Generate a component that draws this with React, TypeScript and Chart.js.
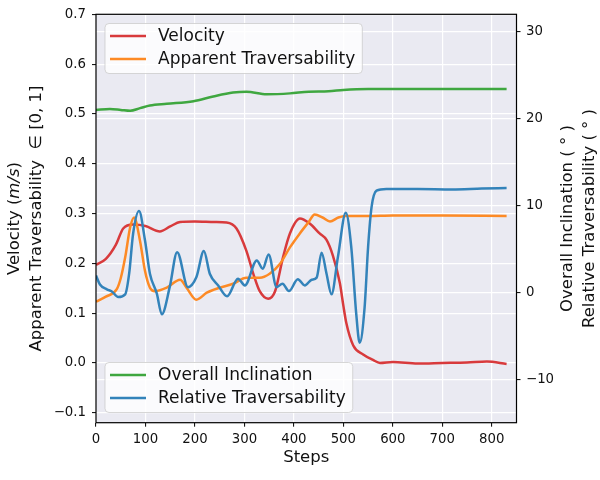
import { useEffect, useRef } from 'react';
import { Chart, registerables } from 'chart.js';

Chart.register(...registerables);

const FONT = "'DejaVu Sans', sans-serif";

// axis ticks
const X_TICKS = [0, 100, 200, 300, 400, 500, 600, 700, 800];
const LEFT_TICKS = [-0.1, 0, 0.1, 0.2, 0.3, 0.4, 0.5, 0.6, 0.7];
const RIGHT_TICKS = [-10, 0, 10, 20, 30];

// Velocity (m/s), left axis
const VELOCITY_STEPS = [0, 20, 40, 55, 75, 100, 129, 150, 170, 200, 240, 264, 284, 304, 318, 331, 348, 362, 378, 392, 412, 432, 452, 466, 479, 493, 500, 506, 520, 540, 560, 574, 600, 650, 700, 750, 790, 830];
const VELOCITY = [0.197, 0.209, 0.237, 0.27, 0.278, 0.275, 0.264, 0.274, 0.283, 0.284, 0.283, 0.282, 0.27, 0.225, 0.179, 0.144, 0.129, 0.144, 0.212, 0.26, 0.29, 0.28, 0.26, 0.247, 0.215, 0.16, 0.115, 0.08, 0.035, 0.017, 0.006, 0.0, 0.002, -0.001, 0.0, 0.001, 0.003, -0.002];

// Apparent Traversability, left axis
const APPARENT_STEPS = [0, 20, 42, 50, 59, 69, 77, 89, 99, 109, 119, 143, 170, 183, 203, 224, 250, 277, 304, 331, 351, 372, 392, 412, 430, 442, 458, 473, 490, 505, 550, 600, 700, 830];
const APPARENT = [0.123, 0.133, 0.148, 0.17, 0.212, 0.272, 0.292, 0.245, 0.185, 0.151, 0.144, 0.151, 0.167, 0.151, 0.127, 0.141, 0.151, 0.159, 0.171, 0.171, 0.179, 0.199, 0.232, 0.26, 0.283, 0.298, 0.292, 0.284, 0.292, 0.295, 0.295, 0.296, 0.296, 0.295];

// Overall Inclination (deg), right axis
const INCLINATION_STEPS = [0, 28, 50, 69, 89, 109, 143, 197, 237, 277, 304, 345, 392, 430, 470, 500, 550, 650, 750, 830];
const INCLINATION = [21.0, 21.1, 21.0, 20.9, 21.2, 21.5, 21.7, 22.0, 22.55, 23.0, 23.1, 22.8, 22.9, 23.1, 23.15, 23.3, 23.4, 23.4, 23.4, 23.4];

// Relative Traversability (deg), right axis
const RELATIVE_STEPS = [0, 8, 22, 32, 45, 59, 67, 75, 87, 99, 109, 123, 133, 149, 164, 186, 203, 218, 230, 247, 265, 287, 301, 325, 337, 349, 365, 377, 390, 408, 422, 436, 446, 456, 466, 476, 489, 505, 516, 526, 533, 543, 550, 557, 567, 587, 650, 720, 780, 830];
const RELATIVE = [1.95, 0.9, 0.35, 0.1, -0.54, -0.23, 2.15, 6.75, 9.35, 6.0, 2.15, -0.15, -2.53, 0.6, 4.63, 0.6, 1.76, 4.75, 2.15, 0.8, -0.46, 1.57, 0.8, 3.68, 2.72, 4.37, 0.6, 1.0, 0.15, 1.5, 0.8, 1.46, 1.7, 4.56, 2.15, -0.23, 4.06, 9.16, 5.2, -2.45, -5.8, -1.7, 5.2, 9.8, 11.7, 11.9, 11.9, 11.85, 11.95, 12.0];

const RED = 'rgb(216,58,60)';
const ORANGE = 'rgb(253,138,37)';
const GREEN = 'rgb(63,167,64)';
const BLUE = 'rgb(51,131,186)';

const toPoints = (xs: number[], ys: number[]) => xs.map((x, i) => ({ x, y: ys[i] }));
const minus = (s: string) => s.replace('-', '\u2212');

type Seg = { text: string; italic?: boolean };

function drawSegments(ctx: CanvasRenderingContext2D, segs: Seg[], cx: number, cy: number, size: number) {
  const fontOf = (s: Seg) => `${s.italic ? 'italic ' : ''}${size}px ${FONT}`;
  let total = 0;
  segs.forEach((s) => {
    ctx.font = fontOf(s);
    total += ctx.measureText(s.text).width;
  });
  let x = cx - total / 2;
  ctx.textAlign = 'left';
  ctx.textBaseline = 'middle';
  segs.forEach((s) => {
    ctx.font = fontOf(s);
    ctx.fillText(s.text, x, cy);
    x += ctx.measureText(s.text).width;
  });
}

function drawLegend(ctx: CanvasRenderingContext2D, x: number, y: number, items: { label: string; color: string }[]) {
  ctx.save();
  ctx.font = `17px ${FONT}`;
  const w = Math.max(...items.map((it) => ctx.measureText(it.label).width));
  const boxW = 53 + w + 7;
  const boxH = 50;
  ctx.beginPath();
  ctx.roundRect(x, y, boxW, boxH, 4);
  ctx.fillStyle = 'rgba(255,255,255,0.8)';
  ctx.fill();
  ctx.strokeStyle = 'rgba(204,204,204,0.8)';
  ctx.lineWidth = 1;
  ctx.stroke();
  items.forEach((it, i) => {
    const cy = y + 12.5 + i * 23;
    ctx.beginPath();
    ctx.moveTo(x + 5, cy);
    ctx.lineTo(x + 41, cy);
    ctx.strokeStyle = it.color;
    ctx.lineWidth = 2.5;
    ctx.stroke();
    ctx.fillStyle = '#111';
    ctx.textAlign = 'left';
    ctx.textBaseline = 'middle';
    ctx.fillText(it.label, x + 53, cy + 1);
  });
  ctx.restore();
}

const decorations = {
  id: 'decorations',
  beforeDraw(chart: any) {
    const { ctx, chartArea: a } = chart;
    ctx.save();
    ctx.fillStyle = '#fff';
    ctx.fillRect(0, 0, chart.width, chart.height);
    ctx.fillStyle = '#EAEAF2';
    ctx.fillRect(a.left, a.top, a.right - a.left, a.bottom - a.top);
    ctx.restore();
  },
  afterDatasetsDraw(chart: any) {
    const { ctx, chartArea: a } = chart;
    ctx.save();
    ctx.strokeStyle = '#000';
    ctx.lineWidth = 1.2;
    ctx.strokeRect(a.left, a.top, a.right - a.left, a.bottom - a.top);
    ctx.restore();

    drawLegend(ctx, 105, 23.5, [
      { label: 'Velocity', color: RED },
      { label: 'Apparent Traversability', color: ORANGE },
    ]);
    drawLegend(ctx, 105, 362.5, [
      { label: 'Overall Inclination', color: GREEN },
      { label: 'Relative Traversability', color: BLUE },
    ]);

    const midY = (a.top + a.bottom) / 2;
    ctx.save();
    ctx.fillStyle = '#111';
    drawSegments(ctx, [{ text: 'Steps' }], (a.left + a.right) / 2, 458, 16.5);

    ctx.translate(15, midY);
    ctx.rotate(-Math.PI / 2);
    drawSegments(ctx, [{ text: 'Velocity (' }, { text: 'm/s', italic: true }, { text: ')' }], 0, 0, 16.5);
    ctx.translate(0, 22);
    drawSegments(ctx, [{ text: 'Apparent Traversability  \u2208 [0, 1]' }], 0, 0, 16.5);
    ctx.restore();

    ctx.save();
    ctx.fillStyle = '#111';
    ctx.translate(568, midY);
    ctx.rotate(-Math.PI / 2);
    drawSegments(ctx, [{ text: 'Overall Inclination ( \u00b0 )' }], 0, 0, 16.5);
    ctx.translate(0, 22);
    drawSegments(ctx, [{ text: 'Relative Traversability ( \u00b0 )' }], 0, 0, 16.5);
    ctx.restore();
  },
};

const tickFont = { family: FONT, size: 13.3 };
const gridBase = {
  color: '#fff',
  lineWidth: 1.2,
  drawTicks: true,
  tickLength: 4,
  tickColor: '#000',
  tickWidth: 1,
};

export default function App() {
  const canvasRef = useRef<HTMLCanvasElement>(null);
  const chartRef = useRef<Chart | null>(null);

  useEffect(() => {
    if (!canvasRef.current) return;
    if (chartRef.current) chartRef.current.destroy();
    const ctx = canvasRef.current.getContext('2d');
    if (!ctx) return;

    const line = (label: string, xs: number[], ys: number[], color: string, axis: string) => ({
      label,
      data: toPoints(xs, ys),
      borderColor: color,
      backgroundColor: color,
      borderWidth: 2.5,
      pointRadius: 0,
      cubicInterpolationMode: 'monotone' as const,
      yAxisID: axis,
    });

    chartRef.current = new Chart(ctx, {
      type: 'line',
      data: {
        datasets: [
          line('Relative Traversability', RELATIVE_STEPS, RELATIVE, BLUE, 'y1'),
          line('Overall Inclination', INCLINATION_STEPS, INCLINATION, GREEN, 'y1'),
          line('Apparent Traversability', APPARENT_STEPS, APPARENT, ORANGE, 'y'),
          line('Velocity', VELOCITY_STEPS, VELOCITY, RED, 'y'),
        ],
      },
      options: {
        responsive: false,
        animation: false,
        layout: { padding: { top: 14.3, left: 0, right: 0, bottom: 0 } },
        plugins: {
          legend: { display: false },
          tooltip: { enabled: false },
        },
        scales: {
          x: {
            type: 'linear',
            min: 0,
            max: 850,
            border: { display: false },
            grid: gridBase,
            afterBuildTicks: (s: any) => {
              s.ticks = X_TICKS.map((v) => ({ value: v }));
            },
            afterFit: (s: any) => {
              s.height = 57.3;
            },
            ticks: { font: tickFont, color: '#111', padding: 5, maxRotation: 0 },
          },
          y: {
            type: 'linear',
            position: 'left',
            min: -0.12,
            max: 0.7,
            border: { display: false },
            grid: gridBase,
            afterBuildTicks: (s: any) => {
              s.ticks = LEFT_TICKS.map((v) => ({ value: v }));
            },
            afterFit: (s: any) => {
              s.width = 96;
            },
            ticks: {
              font: tickFont,
              color: '#111',
              padding: 6,
              callback: (v: any) => minus(Number(v).toFixed(1)),
            },
          },
          y1: {
            type: 'linear',
            position: 'right',
            min: -15,
            max: 32,
            border: { display: false },
            grid: gridBase,
            afterBuildTicks: (s: any) => {
              s.ticks = RIGHT_TICKS.map((v) => ({ value: v }));
            },
            afterFit: (s: any) => {
              s.width = 83.5;
            },
            ticks: {
              font: tickFont,
              color: '#111',
              padding: 5.5,
              callback: (v: any) => minus(String(v)),
            },
          },
        },
      },
      plugins: [decorations],
    });

    return () => {
      if (chartRef.current) {
        chartRef.current.destroy();
        chartRef.current = null;
      }
    };
  }, []);

  return (
    <div style={{ position: 'absolute', left: 0, top: 0, width: 600, height: 480 }}>
      <canvas ref={canvasRef} width={600} height={480} />
    </div>
  );
}
